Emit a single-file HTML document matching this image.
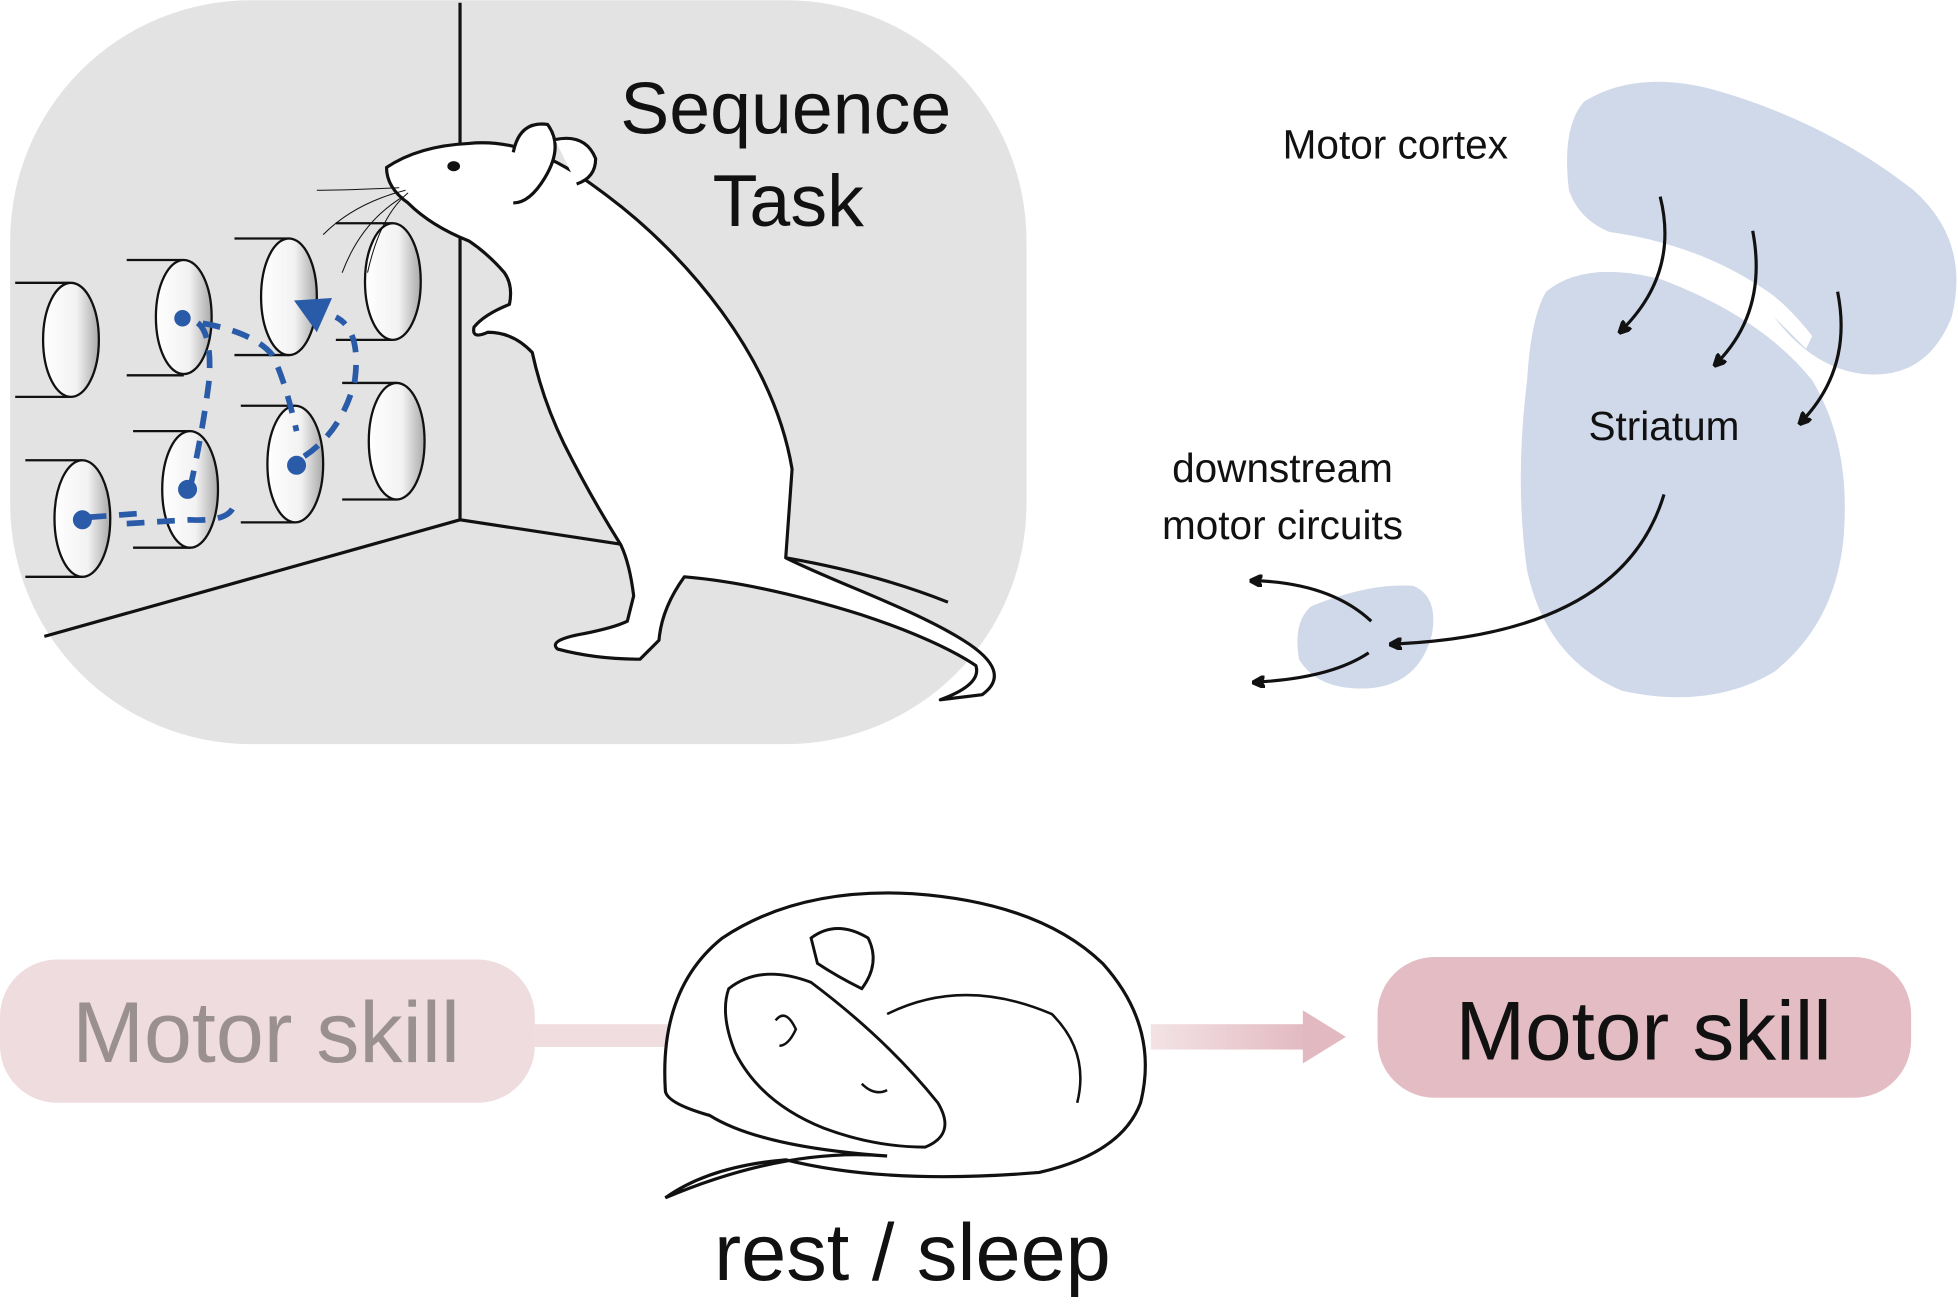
<!DOCTYPE html>
<html><head><meta charset="utf-8"><style>
html,body{margin:0;padding:0;background:#fff;}
svg{display:block;}
text{font-family:"Liberation Sans",sans-serif;}
</style></head><body>
<svg width="1958" height="1307" viewBox="0 0 1545 1031" xmlns="http://www.w3.org/2000/svg">
<defs>
<marker id="ah" markerWidth="10" markerHeight="10" refX="6" refY="5" orient="auto" markerUnits="userSpaceOnUse">
<path d="M0,0 L10,5 L0,10 L3,5 Z" fill="#111" transform="scale(1.6) translate(-2,-2)"/>
</marker>
<linearGradient id="pk" x1="0" x2="1"><stop offset="0" stop-color="#f3e3e6"/><stop offset="1" stop-color="#e2b9c0"/></linearGradient>
<linearGradient id="cyl" x1="0" x2="1"><stop offset="0" stop-color="#fff"/><stop offset="0.6" stop-color="#f2f2f2"/><stop offset="1" stop-color="#aaa"/></linearGradient>
</defs>
<rect x="8" y="0" width="802" height="587" rx="190" fill="#e3e3e3"/>
<line x1="363" y1="2" x2="363" y2="410" stroke="#111" stroke-width="2.5"/>
<polyline points="35,502 363,410 495,430" fill="none" stroke="#111" stroke-width="2.5"/>
<text x="620" y="105" font-size="58" text-anchor="middle" fill="#111">Sequence</text>
<text x="622" y="178" font-size="58" text-anchor="middle" fill="#111">Task</text>
<g stroke="#111" stroke-width="1.8" fill="url(#cyl)">
<line x1="12" y1="223" x2="55" y2="223"/><line x1="12" y1="313" x2="55" y2="313"/><ellipse cx="56" cy="268" rx="22" ry="45"/>
<line x1="100" y1="205" x2="145" y2="205"/><line x1="100" y1="296" x2="145" y2="296"/><ellipse cx="145" cy="250" rx="22" ry="45"/>
<line x1="185" y1="188" x2="228" y2="188"/><line x1="185" y1="280" x2="228" y2="280"/><ellipse cx="228" cy="234" rx="22" ry="46"/>
<line x1="265" y1="176" x2="310" y2="176"/><line x1="265" y1="268" x2="310" y2="268"/><ellipse cx="310" cy="222" rx="22" ry="46"/>
<line x1="20" y1="363" x2="65" y2="363"/><line x1="20" y1="455" x2="65" y2="455"/><ellipse cx="65" cy="409" rx="22" ry="46"/>
<line x1="105" y1="340" x2="150" y2="340"/><line x1="105" y1="432" x2="150" y2="432"/><ellipse cx="150" cy="386" rx="22" ry="46"/>
<line x1="190" y1="320" x2="233" y2="320"/><line x1="190" y1="412" x2="233" y2="412"/><ellipse cx="233" cy="366" rx="22" ry="46"/>
<line x1="270" y1="302" x2="313" y2="302"/><line x1="270" y1="394" x2="313" y2="394"/><ellipse cx="313" cy="348" rx="22" ry="46"/>
</g>
<g fill="#2a5ba8" stroke="#2a5ba8">
<circle cx="65" cy="410" r="7"/><circle cx="148" cy="386" r="7"/><circle cx="234" cy="367" r="7"/><circle cx="144" cy="251" r="6"/>
</g>
<path d="M70,408 L110,405 M100,413 L150,410 Q185,412 185,395 M150,385 Q160,340 165,300 Q168,255 150,252 M160,255 Q200,262 215,280 Q225,300 234,340 M240,360 Q270,340 280,300 Q285,260 265,250" fill="none" stroke="#2a5ba8" stroke-width="4.5" stroke-dasharray="14,10"/>
<polygon points="232,237 262,235 250,262" fill="#2a5ba8"/>
<!-- mouse -->
<path d="M305,132 Q330,115 370,113 C420,108 460,140 480,155 C540,200 610,280 625,370 L620,440 C660,460 720,480 760,505 Q800,530 775,548 L742,552 Q775,540 770,525 Q740,505 680,485 Q600,460 540,455 Q522,480 520,505 L505,520 Q470,520 440,512 Q432,505 460,500 Q485,495 495,490 L500,470 Q497,445 490,430 Q465,390 445,350 Q428,315 420,278 Q405,262 385,262 Q372,268 374,258 Q382,248 402,240 Q405,225 398,215 Q385,200 370,190 Q340,178 322,160 Q305,148 305,132 Z" fill="#fff" stroke="#111" stroke-width="2.5" stroke-linejoin="round"/>
<path d="M620,440 Q690,452 748,475" fill="none" stroke="#111" stroke-width="2.5"/>
<path d="M405,120 Q410,95 432,98 Q445,115 430,140 Q418,160 405,160" fill="#fff" stroke="#111" stroke-width="2.5"/>
<path d="M438,110 Q462,105 470,125 Q470,140 455,145" fill="#fff" stroke="#111" stroke-width="2.5"/>
<ellipse cx="358" cy="131" rx="5" ry="4" fill="#111"/>
<path d="M320,150 Q280,160 255,185 M318,155 Q285,175 270,215 M322,152 Q300,170 290,215 M315,148 Q270,150 250,150" fill="none" stroke="#111" stroke-width="0.8"/>
<!-- brain -->
<path d="M1250,80 Q1290,55 1350,70 Q1440,95 1510,150 Q1555,190 1540,250 Q1520,300 1470,295 Q1430,290 1400,250 Q1360,200 1300,190 Q1250,185 1238,150 Q1232,100 1250,80 Z" fill="#cfd9e9"/>
<path d="M1220,230 Q1250,205 1310,220 Q1390,250 1430,300 Q1460,350 1455,420 Q1450,490 1400,530 Q1350,560 1280,545 Q1220,520 1205,450 Q1195,380 1205,300 Q1208,250 1220,230 Z" fill="#cfd9e9"/>
<path d="M1240,195 Q1330,190 1400,250 Q1415,265 1425,275 L1430,265 Q1410,240 1395,230 Q1330,185 1240,180 Z" fill="#fff"/>
<path d="M1035,478 Q1080,460 1115,462 Q1135,470 1130,500 Q1120,540 1080,543 Q1040,545 1025,520 Q1020,490 1035,478 Z" fill="#cfd9e9"/>
<text x="1101" y="125" font-size="32" text-anchor="middle" fill="#111">Motor cortex</text>
<text x="1313" y="347" font-size="32" text-anchor="middle" fill="#111">Striatum</text>
<text x="1012" y="380" font-size="32" text-anchor="middle" fill="#111">downstream</text>
<text x="1012" y="425" font-size="32" text-anchor="middle" fill="#111">motor circuits</text>
<g fill="none" stroke="#111" stroke-width="2.5" marker-end="url(#ah)">
<path d="M1310,155 Q1325,215 1280,260"/>
<path d="M1383,182 Q1395,245 1355,286"/>
<path d="M1450,230 Q1462,290 1422,332"/>
<path d="M1313,390 Q1280,500 1100,508"/>
<path d="M1082,490 Q1050,460 990,458"/>
<path d="M1080,515 Q1050,535 992,538"/>
</g>
<!-- bottom -->
<rect x="0" y="757" width="422" height="113" rx="45" fill="#efdcdf"/>
<text x="210" y="838" font-size="68" text-anchor="middle" fill="#9a9090">Motor skill</text>
<rect x="420" y="808" width="115" height="18" fill="#f0dde0"/>
<rect x="908" y="808" width="125" height="20" fill="url(#pk)"/>
<polygon points="1028,797 1062,818 1028,839" fill="#e2b9c0"/>
<rect x="1087" y="755" width="421" height="111" rx="45" fill="#e4bcc3"/>
<text x="1297" y="836" font-size="66" text-anchor="middle" fill="#111">Motor skill</text>
<!-- sleeping mouse -->
<path d="M525,860 Q520,780 570,740 Q630,700 720,705 Q820,712 870,760 Q915,810 900,870 Q885,910 820,925 Q700,935 620,915 Q560,920 525,945 Q620,905 700,912 Q600,905 560,880 Q525,870 525,860 Z" fill="#fff" stroke="#111" stroke-width="2.5"/>
<path d="M575,780 Q600,760 640,775 Q700,820 740,870 Q755,895 730,905 Q690,905 650,890 Q600,870 580,830 Q568,800 575,780 Z" fill="#fff" stroke="#111" stroke-width="2.3"/>
<path d="M640,740 Q660,725 685,740 Q695,760 680,780 Q660,770 645,760 Z" fill="#fff" stroke="#111" stroke-width="2.3"/>
<path d="M700,800 Q760,770 830,800 Q860,830 850,870" fill="none" stroke="#111" stroke-width="2"/>
<path d="M612,805 Q620,795 628,812 Q622,825 615,825" fill="none" stroke="#111" stroke-width="2"/>
<path d="M680,855 Q690,865 700,860" fill="none" stroke="#111" stroke-width="2"/>
<text x="720" y="1010" font-size="64" text-anchor="middle" fill="#111">rest / sleep</text>
</svg>
</body></html>
